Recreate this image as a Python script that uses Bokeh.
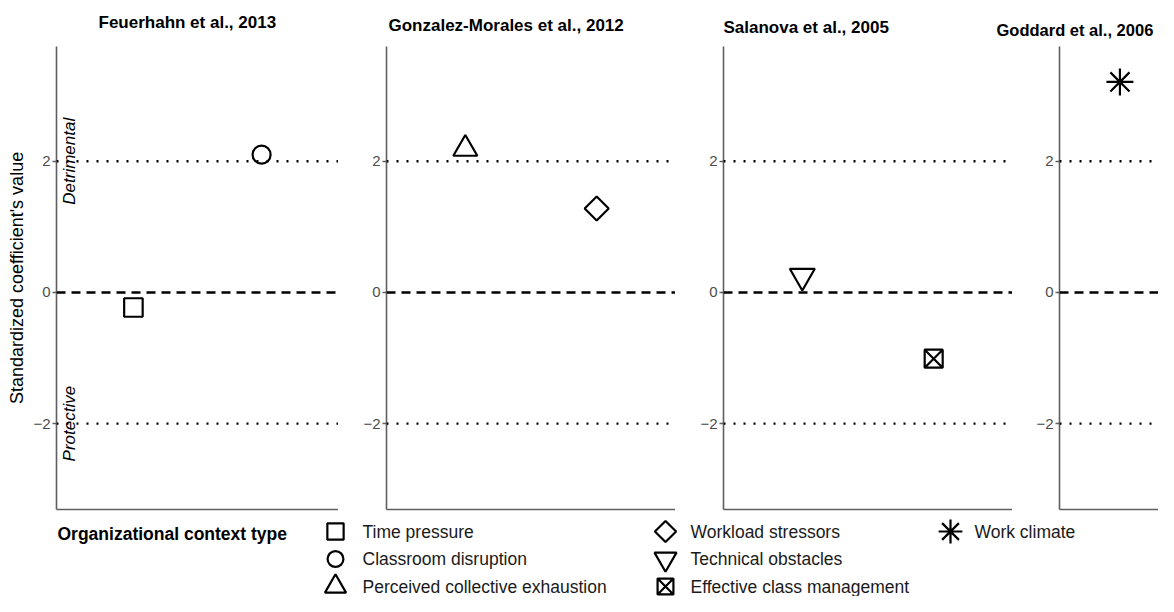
import math
from bokeh.plotting import figure
from bokeh.models import Range1d, FixedTicker, Span
from bokeh.layouts import row, column
from bokeh.embed import file_html
from bokeh.resources import INLINE
from bokeh.core.properties import value

FONT = "Liberation Sans"

# ---------------- data ----------------
studies = ["Feuerhahn et al., 2013", "Gonzalez-Morales et al., 2012",
           "Salanova et al., 2005", "Goddard et al., 2006"]

feuerhahn_types = ["Time pressure", "Classroom disruption"]
feuerhahn_x = [1, 2]
feuerhahn_coef = [-0.23, 2.10]

gonzalez_types = ["Perceived collective exhaustion", "Workload stressors"]
gonzalez_x = [1, 2]
gonzalez_coef = [2.19, 1.28]

salanova_types = ["Technical obstacles", "Effective class management"]
salanova_x = [1, 2]
salanova_coef = [0.25, -1.01]

goddard_types = ["Work climate"]
goddard_x = [0.86]
goddard_coef = [3.21]

y_ticks = [-2, 0, 2]
y_tick_labels = ["\u22122", "0", "2"]
band_y = [2, -2]
band_labels = ["Detrimental", "Protective"]

legend_title = "Organizational context type"
legend_columns = [
    ["Time pressure", "Classroom disruption", "Perceived collective exhaustion"],
    ["Workload stressors", "Technical obstacles", "Effective class management"],
    ["Work climate"],
]

# ---------------- styles ----------------
SHAPES = {
    "Time pressure": dict(marker="square", size=18.5, angle=0.0),
    "Classroom disruption": dict(marker="circle", size=18, angle=0.0),
    "Perceived collective exhaustion": dict(marker="triangle", size=24, angle=0.0),
    "Workload stressors": dict(marker="square", size=17, angle=math.pi / 4),
    "Technical obstacles": dict(marker="inverted_triangle", size=25, angle=0.0),
    "Effective class management": dict(marker="square_x", size=18, angle=0.0),
    "Work climate": dict(marker="asterisk", size=27, angle=0.0),
}
LEGEND_SCALE = 0.88
AXIS_GRAY = "#5f5f5f"
TICK_GRAY = "#4d4d4d"

TOTAL_W, TOTAL_H = 1158, 596
X0, X1 = 0.4, 2.6
Y0, Y1 = -3.31, 3.75
TITLE_H = 46
FRAME_H = 463
BOTTOM = 2
PANEL_H = FRAME_H + BOTTOM

# panel geometry in pixels: left border, visible frame width, full panel width
panels = [
    dict(xs=feuerhahn_x, ys=feuerhahn_coef, kinds=feuerhahn_types, left=56, frame=282, full=282, first=True),
    dict(xs=gonzalez_x, ys=gonzalez_coef, kinds=gonzalez_types, left=48, frame=289, full=289, first=False),
    dict(xs=salanova_x, ys=salanova_coef, kinds=salanova_types, left=48, frame=289, full=289, first=False),
    dict(xs=goddard_x, ys=goddard_coef, kinds=goddard_types, left=47, frame=99, full=289, first=False),
]
# title placement (px): start x, centre y from top, font size
title_x = [98, 388, 723, 996]
title_cy = [22, 24.5, 26.5, 29]
title_size = ["17px", "17px", "17px", "16.5px"]


def make_panel(cfg):
    px_per_x = cfg["full"] / (X1 - X0)
    x_end = X0 + cfg["frame"] / px_per_x
    p = figure(width=cfg["left"] + cfg["frame"], height=PANEL_H,
               x_range=Range1d(X0, x_end), y_range=Range1d(Y0, Y1),
               output_backend="svg", toolbar_location=None,
               min_border_left=cfg["left"], min_border_right=0,
               min_border_top=0, min_border_bottom=BOTTOM)
    p.grid.visible = False
    p.outline_line_color = None
    p.background_fill_color = "white"
    p.border_fill_color = "white"

    # y axis
    ya = p.yaxis[0]
    ya.ticker = FixedTicker(ticks=y_ticks)
    ya.major_label_overrides = {t: l for t, l in zip(y_ticks, y_tick_labels)}
    ya.major_tick_in = 0
    ya.major_tick_out = 4
    ya.minor_tick_line_color = None
    ya.axis_line_color = AXIS_GRAY
    ya.axis_line_width = 1.6
    ya.major_tick_line_color = AXIS_GRAY
    ya.major_tick_line_width = 1.4
    ya.major_label_text_font = FONT
    ya.major_label_text_font_size = "15px"
    ya.major_label_text_color = TICK_GRAY
    ya.major_label_standoff = 2
    if cfg["first"]:
        ya.axis_label = "Standardized coefficient's value"
        ya.axis_label_text_font = FONT
        ya.axis_label_text_font_size = "18px"
        ya.axis_label_text_font_style = "normal"
        ya.axis_label_text_color = "black"
        ya.axis_label_standoff = 3

    # x axis: line only
    xa = p.xaxis[0]
    xa.ticker = FixedTicker(ticks=[])
    xa.major_label_text_font_size = "0px"
    xa.major_tick_line_color = None
    xa.minor_tick_line_color = None
    xa.axis_line_color = AXIS_GRAY
    xa.axis_line_width = 1.6

    # reference lines
    for yv in (2, -2):
        p.add_layout(Span(location=yv, dimension="width", line_color="black",
                          line_width=2.4, line_dash="2 8"))
    p.add_layout(Span(location=0, dimension="width", line_color="black",
                      line_width=2.4, line_dash="9 6"))

    if cfg["first"]:
        p.text(x=[0.5, 0.5], y=band_y, text=band_labels, angle=math.pi / 2,
               text_align="center", text_baseline="middle",
               text_font=value(FONT), text_font_size="17px",
               text_font_style="italic", text_color="black")

    for x, y, k in zip(cfg["xs"], cfg["ys"], cfg["kinds"]):
        s = SHAPES[k]
        p.scatter(x=[x], y=[y], marker=s["marker"], size=s["size"], angle=s["angle"],
                  fill_color=None, line_color="black", line_width=2.2)
    return p


def strip(height):
    f = figure(width=TOTAL_W, height=height, x_range=Range1d(0, TOTAL_W),
               y_range=Range1d(0, height), output_backend="svg", toolbar_location=None,
               min_border=0, x_axis_type=None, y_axis_type=None)
    f.grid.visible = False
    f.outline_line_color = None
    return f


# ---------------- title strip ----------------
top = strip(TITLE_H)
for tx, ty, ts, name in zip(title_x, title_cy, title_size, studies):
    top.text(x=[tx], y=[TITLE_H - ty], text=[name], text_align="left", text_baseline="middle",
             text_font=value(FONT), text_font_size=ts, text_font_style="bold",
             text_color="black")

figs = [make_panel(c) for c in panels]

# ---------------- legend strip ----------------
LEG_H = TOTAL_H - TITLE_H - PANEL_H
leg = strip(LEG_H)

col_key_x = [335, 665, 950]
col_text_x = [362, 690, 974]
row_top = 20          # first row centre, px below the strip top
row_pitch = 27.5

leg.text(x=[57], y=[LEG_H - row_top - 2], text=[legend_title], text_align="left",
         text_baseline="middle", text_font=value(FONT), text_font_size="17.5px",
         text_font_style="bold", text_color="black")

for ci, items in enumerate(legend_columns):
    for ri, name in enumerate(items):
        yy = LEG_H - (row_top + ri * row_pitch)
        s = SHAPES[name]
        leg.scatter(x=[col_key_x[ci]], y=[yy], marker=s["marker"], size=s["size"] * LEGEND_SCALE,
                    angle=s["angle"], fill_color=None, line_color="black", line_width=2.2)
        leg.text(x=[col_text_x[ci]], y=[yy], text=[name], text_align="left",
                 text_baseline="middle", text_font=value(FONT), text_font_size="17.5px",
                 text_color="#1a1a1a")

layout = column(top, row(*figs), leg)
open("out.html", "w").write(file_html(layout, INLINE))
